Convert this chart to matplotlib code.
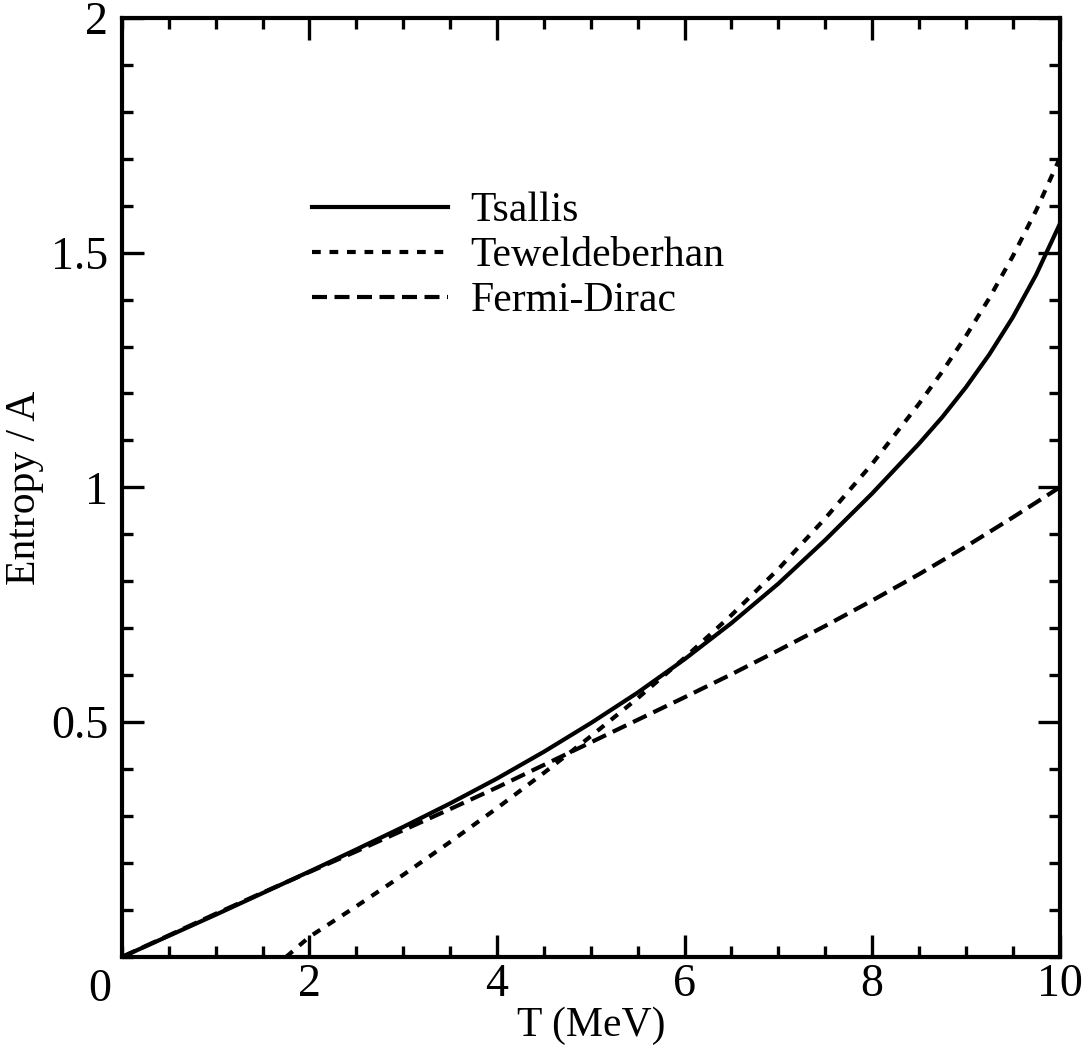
import numpy as np
import matplotlib.pyplot as plt
from matplotlib.ticker import MultipleLocator

plt.rcParams['font.family'] = ['Liberation Serif', 'DejaVu Serif']

# values (T in MeV, entropy per nucleon)
T = [0.0, 0.5, 1.0, 1.5, 2.0, 2.5, 3.0, 3.5, 4.0, 4.5, 5.0,
     5.5, 6.0, 6.5, 7.0, 7.5, 8.0, 8.5, 8.75, 9.0, 9.25, 9.5, 9.75, 10.0]
tsallis = [0.0, 0.045, 0.090, 0.136, 0.182, 0.229, 0.277, 0.327, 0.380, 0.437, 0.498,
           0.563, 0.634, 0.711, 0.795, 0.888, 0.987, 1.093, 1.150, 1.213, 1.283, 1.362, 1.453, 1.560]

T_fd = [0.0, 0.5, 1.0, 1.5, 2.0, 2.5, 3.0, 3.5, 4.0, 4.5, 5.0,
        5.5, 6.0, 6.5, 7.0, 7.5, 8.0, 8.5, 9.0, 9.5, 10.0]
fermi_dirac = [0.0, 0.046, 0.092, 0.137, 0.181, 0.225, 0.270, 0.315, 0.361, 0.409, 0.457,
               0.505, 0.553, 0.602, 0.653, 0.705, 0.759, 0.815, 0.874, 0.936, 1.000]

T_tew = [1.75, 2.0, 2.5, 3.0, 3.5, 4.0, 4.5, 5.0, 5.5, 6.0, 6.5, 7.0,
         7.5, 8.0, 8.5, 8.75, 9.0, 9.25, 9.5, 9.75, 10.0]
teweldeberhan = [0.0, 0.043, 0.108, 0.175, 0.245, 0.317, 0.392, 0.470, 0.551, 0.637, 0.728, 0.826,
                 0.934, 1.050, 1.178, 1.247, 1.322, 1.403, 1.492, 1.590, 1.700]

fig = plt.figure(figsize=(10.89, 10.5), dpi=100)
ax = fig.add_axes([0.112, 0.0886, 0.861, 0.8944])

lw = 3.0
ax.plot(T, tsallis, color='k', lw=lw, label='Tsallis')
ax.plot(T_tew, teweldeberhan, color='k', lw=lw, linestyle=(0, (2.1, 2.1)), label='Teweldeberhan')
ax.plot(T_fd, fermi_dirac, color='k', lw=lw, linestyle=(0, (3.6, 1.8)), label='Fermi-Dirac')

ax.set_xlim(0, 10)
ax.set_ylim(0, 2)
ax.xaxis.set_minor_locator(MultipleLocator(0.5))
ax.yaxis.set_minor_locator(MultipleLocator(0.1))
ax.set_yticks([0.5, 1.0, 1.5, 2.0])
ax.set_yticklabels(['0.5', '1', '1.5', '2'])
ax.set_xticks([2, 4, 6, 8, 10])
ax.set_xticklabels(['2', '4', '6', '8', '10'])

ax.tick_params(which='both', direction='in', top=True, right=True, labelsize=33, width=2.4)
ax.tick_params(which='major', length=16)
ax.tick_params(which='minor', length=8)
ax.tick_params(axis='x', pad=5)
ax.tick_params(axis='y', pad=10)
for s in ax.spines.values():
    s.set_linewidth(3)

# shared corner zero
ax.text(-0.24, -0.07, '0', fontsize=33, ha='center', va='center')

ax.set_xlabel('T (MeV)', fontsize=30, labelpad=0)
ax.set_ylabel('Entropy / A', fontsize=30, labelpad=5)

ax.legend(loc='upper left', bbox_to_anchor=(0.203, 0.815), frameon=False, fontsize=30,
          handlelength=3.25, handletextpad=0.55, labelspacing=0.16, borderpad=0, borderaxespad=0)

fig.savefig('out.png', dpi=100)
